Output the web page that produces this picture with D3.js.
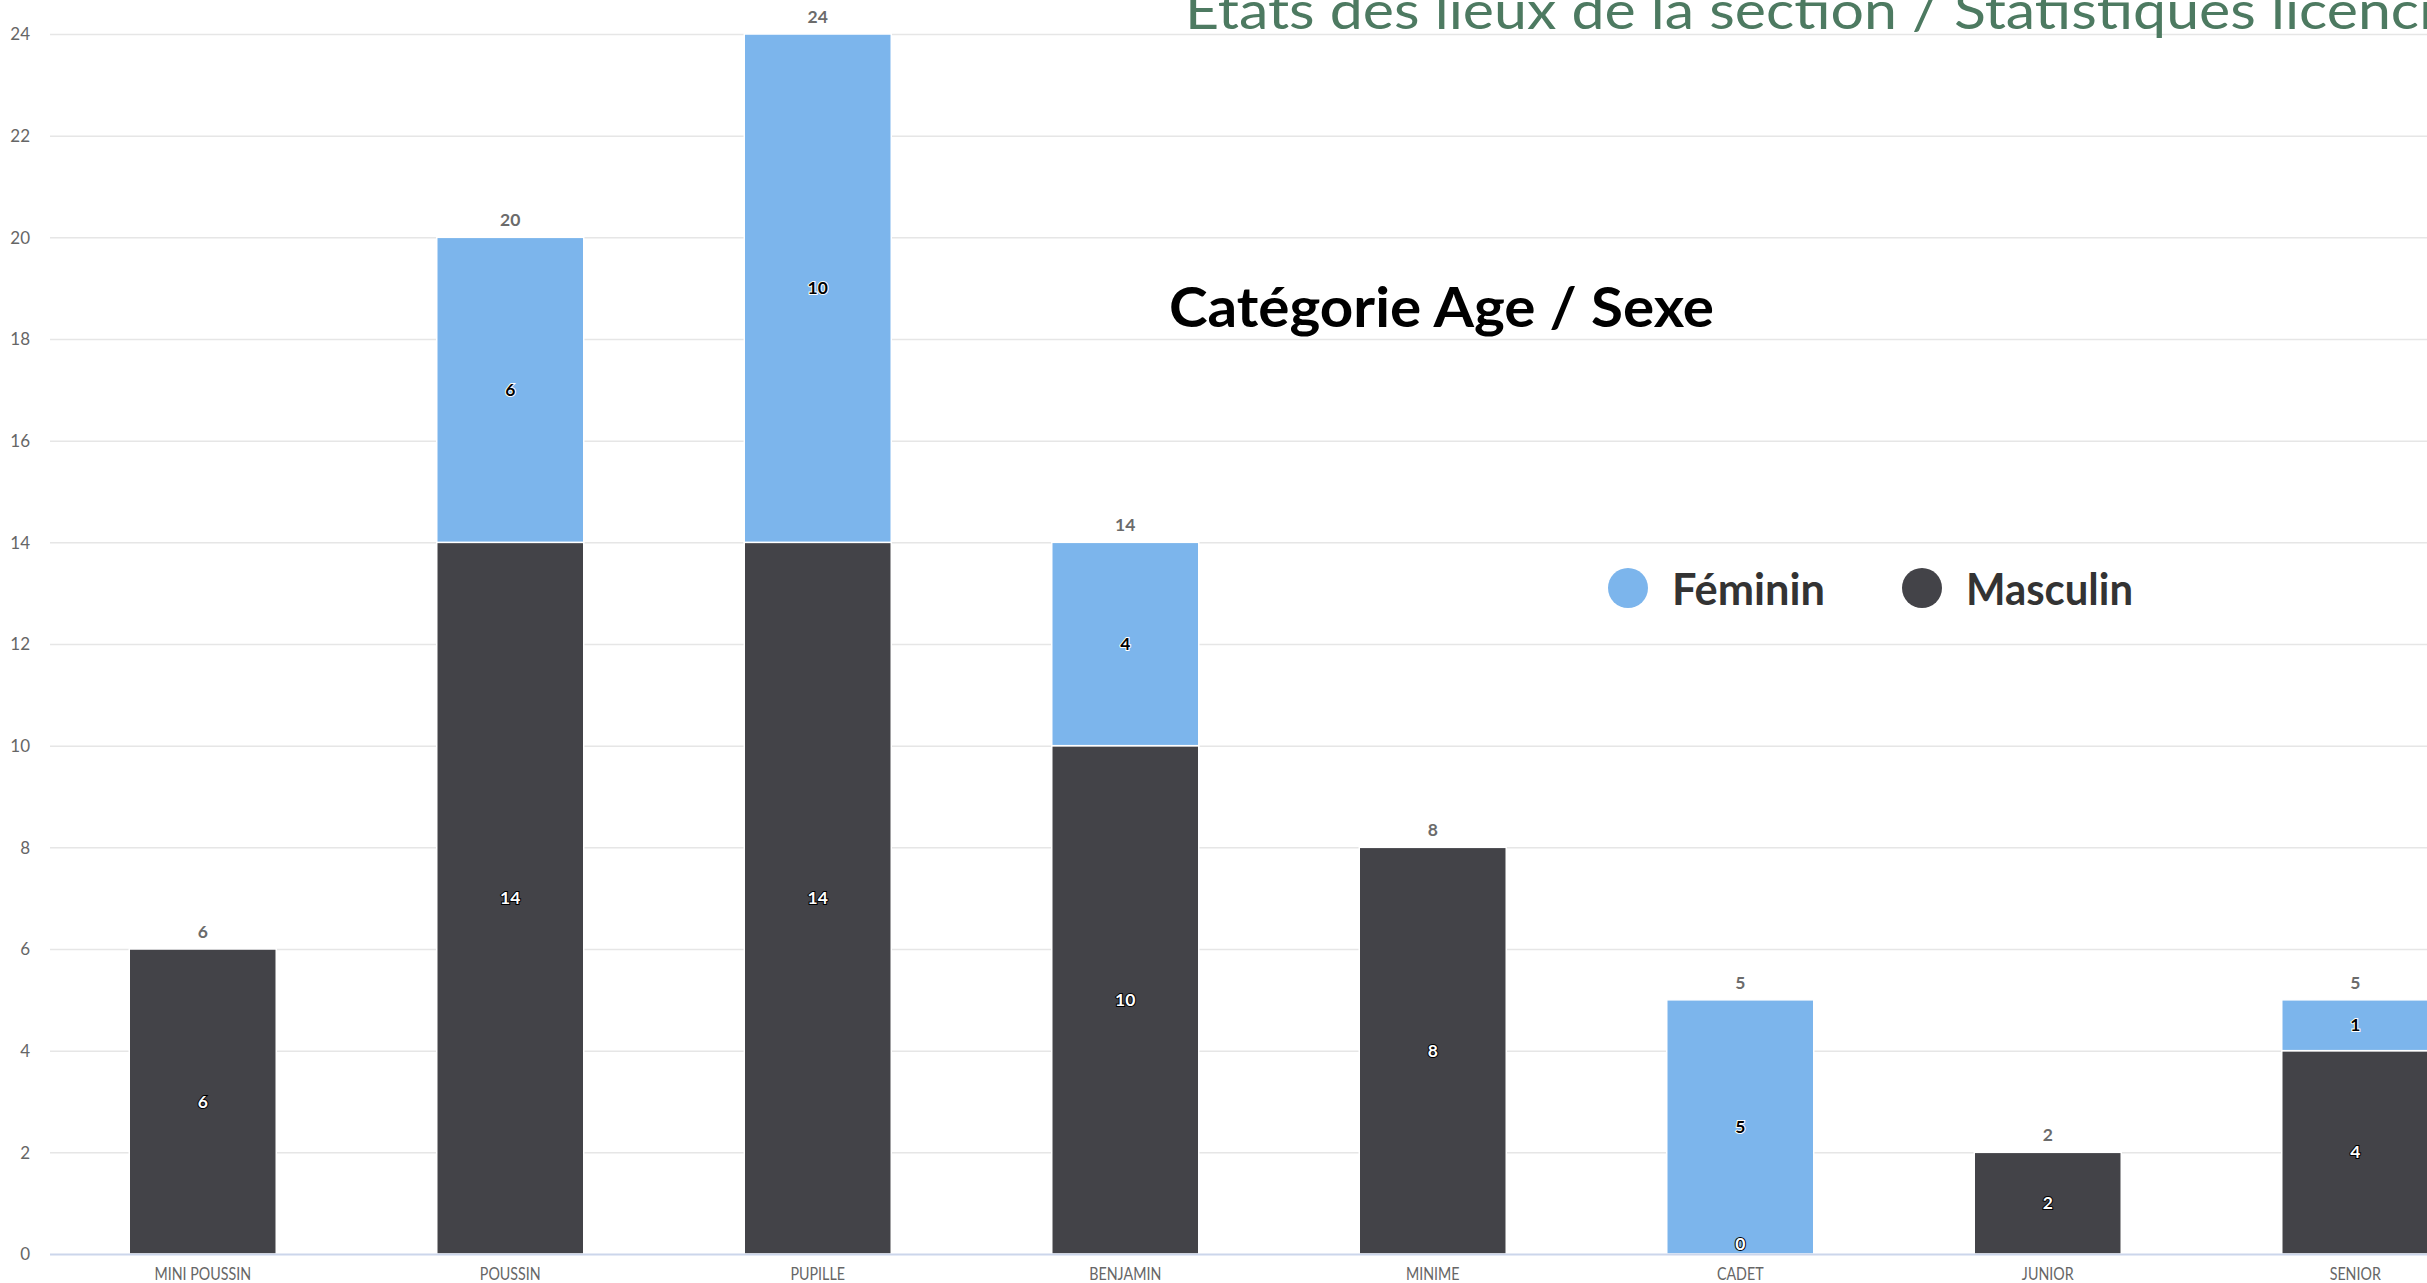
<!DOCTYPE html>
<html>
<head>
<meta charset="utf-8">
<script src="https://cdn.jsdelivr.net/npm/d3@7"></script>
<style>
  html, body { margin: 0; padding: 0; background: #fff; overflow: hidden; }
  svg { display: block; }
</style>
</head>
<body>
<div id="chart"></div>
<script>
// categories d'age
const categories = ["MINI POUSSIN", "POUSSIN", "PUPILLE", "BENJAMIN", "MINIME", "CADET", "JUNIOR", "SENIOR"];
// null = pas de valeur affichee
const feminin = [null, 6, 10, 4, null, 5, null, 1];
const masculin = [6, 14, 14, 10, 8, 0, 2, 4];
const yTicks = [0, 2, 4, 6, 8, 10, 12, 14, 16, 18, 20, 22, 24];
const seriesNames = ["Féminin", "Masculin"];

const W = 2427, H = 1283;
const colors = {"Féminin": "#7cb5ec", "Masculin": "#434348"};

const data = categories.map((c, i) => ({
  cat: c,
  Masculin: masculin[i],
  Feminin: feminin[i]
}));

const svg = d3.select("#chart").append("svg")
  .attr("width", W)
  .attr("height", H);

// plot area runs past the right edge (picture is cropped)
const x = d3.scaleBand()
  .domain(categories)
  .range([49, 49 + 8 * 307.5])
  .paddingInner(0.522)
  .paddingOuter(0.261);

const y = d3.scaleLinear()
  .domain([0, 24])
  .range([1254, 34]);

// grid lines
svg.append("g")
  .selectAll("line")
  .data(yTicks.filter(d => d > 0))
  .enter().append("line")
    .attr("x1", 50)
    .attr("x2", W)
    .attr("y1", d => y(d) + 0.5)
    .attr("y2", d => y(d) + 0.5)
    .attr("stroke", "#e6e6e6")
    .attr("stroke-width", 1.5);

// y axis labels
const yAxis = svg.append("g")
  .attr("transform", "translate(30,0)")
  .call(d3.axisLeft(y).tickValues(yTicks).tickSize(0).tickPadding(0));
yAxis.select(".domain").remove();
yAxis.selectAll("text")
  .attr("font-family", "Lato, 'Open Sans', sans-serif")
  .attr("font-size", 17)
  .attr("fill", "#666")
  .attr("dy", "0.35em");

// stacked bars
const stack = d3.stack()
  .keys(["Masculin", "Feminin"])
  .value((d, k) => d[k] == null ? 0 : d[k]);
const layers = stack(data);

const layerG = svg.append("g").selectAll("g")
  .data(layers)
  .enter().append("g")
    .attr("fill", d => d.key == "Masculin" ? colors["Masculin"] : colors["Féminin"]);

layerG.selectAll("rect")
  .data(d => d.map(v => ({v: v, key: d.key})))
  .enter().append("rect")
    .filter(d => d.v.data[d.key] != null && d.v[1] > d.v[0])
    .attr("x", d => x(d.v.data.cat))
    .attr("width", x.bandwidth())
    .attr("y", d => y(d.v[1]))
    .attr("height", d => y(d.v[0]) - y(d.v[1]))
    .attr("stroke", "#fff")
    .attr("stroke-width", 1.5);

// x axis line
svg.append("line")
  .attr("x1", 50).attr("x2", W)
  .attr("y1", y(0) + 0.5).attr("y2", y(0) + 0.5)
  .attr("stroke", "#ccd6eb")
  .attr("stroke-width", 2);

// x axis labels
const xAxis = svg.append("g")
  .attr("transform", `translate(0,${y(0)})`)
  .call(d3.axisBottom(x).tickSize(0).tickPadding(14));
xAxis.select(".domain").remove();
xAxis.selectAll("text")
  .attr("font-family", "Lato, 'Open Sans', sans-serif")
  .attr("font-size", 17)
  .attr("fill", "#666")
  .attr("transform", "scale(0.84,1)");

// labels inside segments
const labelG = svg.append("g");
layers.forEach(layer => {
  layer.forEach(v => {
    const val = v.data[layer.key];
    if (val == null) return;
    const dark = layer.key == "Masculin";
    let cy = y((v[0] + v[1]) / 2);
    cy = Math.min(cy, y(0) - 10);
    labelG.append("text")
      .attr("x", x(v.data.cat) + x.bandwidth() / 2)
      .attr("y", cy)
      .attr("dy", "0.35em")
      .attr("text-anchor", "middle")
      .attr("font-family", "Lato, 'Open Sans', sans-serif")
      .attr("font-weight", "bold")
      .attr("font-size", 17.5)
      .attr("fill", dark ? "#fff" : "#000")
      .attr("stroke", dark ? "#000" : "#fff")
      .attr("stroke-width", 2)
      .attr("paint-order", "stroke")
      .text(val);
  });
});

// stack totals
svg.append("g").selectAll("text")
  .data(data)
  .enter().append("text")
    .attr("x", d => x(d.cat) + x.bandwidth() / 2)
    .attr("y", d => y(d.Masculin + (d.Feminin || 0)) - 17)
    .attr("dy", "0.35em")
    .attr("text-anchor", "middle")
    .attr("font-family", "Lato, 'Open Sans', sans-serif")
    .attr("font-weight", "bold")
    .attr("font-size", 17.5)
    .attr("fill", "#6b6b6b")
    .text(d => d.Masculin + (d.Feminin || 0));

// slide title (cut at top / right)
svg.append("text")
  .attr("x", 1185)
  .attr("y", 29)
  .attr("font-family", "Lato, 'Open Sans', sans-serif")
  .attr("font-size", 53)
  .attr("fill", "#4d7a61")
  .attr("textLength", 1305)
  .attr("lengthAdjust", "spacingAndGlyphs")
  .text("États des lieux de la section / Statistiques licenciés");

// chart title
svg.append("text")
  .attr("x", 1169)
  .attr("y", 327)
  .attr("font-family", "Lato, 'Open Sans', sans-serif")
  .attr("font-weight", "bold")
  .attr("font-size", 55)
  .attr("fill", "#000")
  .attr("textLength", 545)
  .attr("lengthAdjust", "spacingAndGlyphs")
  .text("Catégorie Age / Sexe");

// legend
const legendX = [1628, 1922];
const legendW = [153, 167];
const legend = svg.append("g").selectAll("g")
  .data(seriesNames)
  .enter().append("g")
    .attr("transform", (d, i) => `translate(${legendX[i]},588)`);
legend.append("circle")
  .attr("r", 20)
  .attr("fill", d => colors[d]);
legend.append("text")
  .attr("x", 44)
  .attr("y", 17)
  .attr("font-family", "Lato, 'Open Sans', sans-serif")
  .attr("font-weight", "bold")
  .attr("font-size", 44)
  .attr("fill", "#333")
  .attr("textLength", (d, i) => legendW[i])
  .attr("lengthAdjust", "spacingAndGlyphs")
  .text(d => d);
</script>
</body>
</html>
